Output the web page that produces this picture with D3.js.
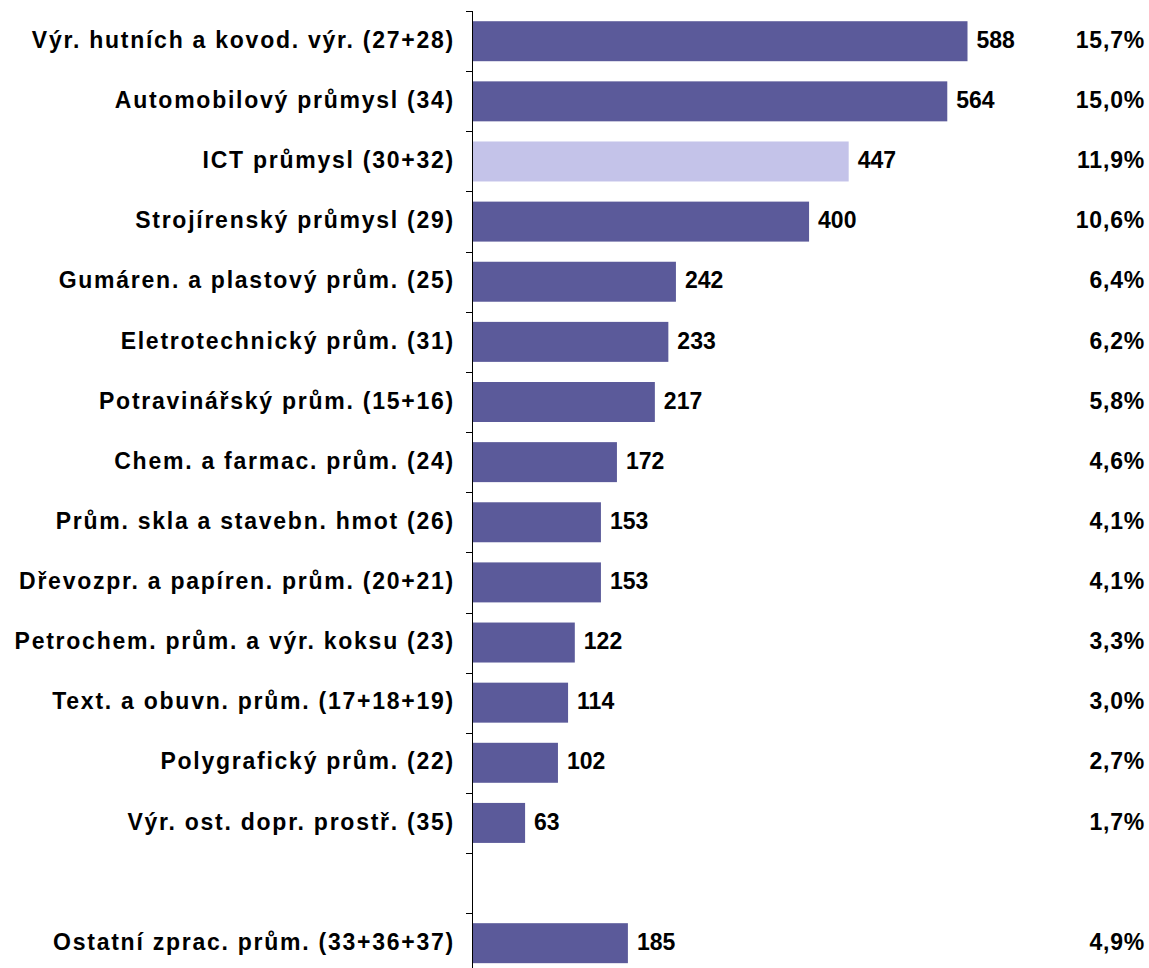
<!DOCTYPE html>
<html><head><meta charset="utf-8">
<script src="https://cdn.jsdelivr.net/npm/d3@7"></script>
<style>body{margin:0;background:#fff}svg{display:block}</style>
</head><body>
<script>
const categories = [
  "Výr. hutních a kovod. výr. (27+28)",
  "Automobilový průmysl (34)",
  "ICT průmysl (30+32)",
  "Strojírenský průmysl (29)",
  "Gumáren. a plastový prům. (25)",
  "Eletrotechnický prům. (31)",
  "Potravinářský prům. (15+16)",
  "Chem. a farmac. prům. (24)",
  "Prům. skla a stavebn. hmot (26)",
  "Dřevozpr. a papíren. prům. (20+21)",
  "Petrochem. prům. a výr. koksu (23)",
  "Text. a obuvn. prům. (17+18+19)",
  "Polygrafický prům. (22)",
  "Výr. ost. dopr. prostř. (35)",
  "",
  "Ostatní zprac. prům. (33+36+37)"
];
const values = [588, 564, 447, 400, 242, 233, 217, 172, 153, 153, 122, 114, 102, 63, null, 185];
const shares = ["15,7%", "15,0%", "11,9%", "10,6%", "6,4%", "6,2%", "5,8%", "4,6%", "4,1%", "4,1%", "3,3%", "3,0%", "2,7%", "1,7%", "", "4,9%"];
const highlight = ["ICT průmysl (30+32)"];

const W = 1149, H = 968;
const x0 = 472, topY = 11, step = 60.15;
const svg = d3.select("body").append("svg").attr("width", W).attr("height", H);
const keys = categories.map((c, i) => i);
const y = d3.scaleBand().domain(keys).range([topY, topY + step * keys.length]).paddingInner(0.335).paddingOuter(0.17);
const x = d3.scaleLinear().domain([0, 588]).range([x0, 967.5]);

const font = "'Liberation Sans', Arial, sans-serif";
const dy = "0.29em";

// bars
svg.append("g").selectAll("rect").data(keys.filter(i => values[i] != null)).join("rect")
  .attr("x", x(0)).attr("y", i => y(i))
  .attr("width", i => x(values[i]) - x(0)).attr("height", y.bandwidth())
  .attr("fill", i => highlight.includes(categories[i]) ? "#C4C3E9" : "#5B5A9A");

// axis
const ax = svg.append("g").attr("stroke", "#000").attr("stroke-width", 1);
ax.append("line").attr("x1", x0 + 0.5).attr("x2", x0 + 0.5).attr("y1", topY).attr("y2", H);
keys.forEach(i => {
  const yy = Math.round(topY + i * step) + 0.5;
  ax.append("line").attr("x1", x0 - 6).attr("x2", x0 + 0.5).attr("y1", yy).attr("y2", yy);
});

// category labels
svg.append("g").selectAll("text").data(keys).join("text")
  .attr("x", 455).attr("y", i => y(i) + y.bandwidth() / 2).attr("dy", dy)
  .attr("text-anchor", "end").attr("font-family", font).attr("font-weight", "bold").attr("font-size", 23)
  .attr("letter-spacing", 1.75)
  .text(i => categories[i]);

// value labels
svg.append("g").selectAll("text").data(keys.filter(i => values[i] != null)).join("text")
  .attr("x", i => x(values[i]) + 9).attr("y", i => y(i) + y.bandwidth() / 2).attr("dy", dy)
  .attr("font-family", font).attr("font-weight", "bold").attr("font-size", 23)
  .text(i => values[i]);

// share labels
svg.append("g").selectAll("text").data(keys.filter(i => shares[i])).join("text")
  .attr("x", 1145).attr("y", i => y(i) + y.bandwidth() / 2).attr("dy", dy)
  .attr("text-anchor", "end").attr("font-family", font).attr("font-weight", "bold").attr("font-size", 23)
  .attr("letter-spacing", 0.8)
  .text(i => shares[i]);
</script>
</body></html>
